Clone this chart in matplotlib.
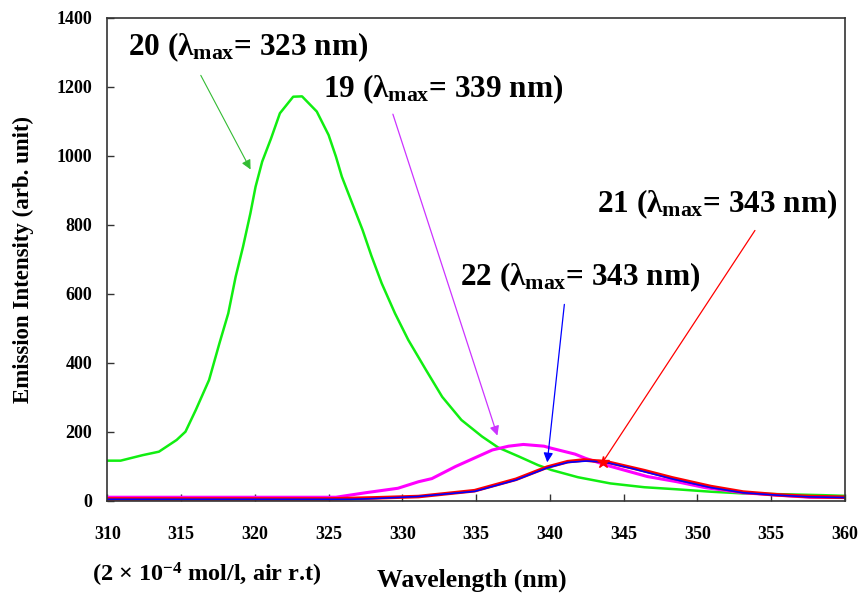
import matplotlib
matplotlib.use("Agg")
import matplotlib.pyplot as plt

plt.rcParams['font.family'] = ['Liberation Serif', 'DejaVu Serif']
plt.rcParams['font.weight'] = 'bold'
plt.rcParams['mathtext.fontset'] = 'custom'
plt.rcParams['mathtext.rm'] = 'Liberation Serif:bold'
plt.rcParams['mathtext.it'] = 'Liberation Serif:bold'
plt.rcParams['mathtext.bf'] = 'Liberation Serif:bold'

# compound 20 (green)
wl_20 = [310, 310.9, 312.4, 313.5, 314.7, 315.3, 316.0, 316.9, 317.6, 318.2, 318.7, 319.2,
         319.7, 320.05, 320.5, 321.1, 321.7, 322.6, 323.2, 324.2, 325.0, 325.5, 325.9, 326.6,
         327.3, 327.9, 328.6, 329.5, 330.4, 331.6, 332.7, 334.0, 335.4, 336.5, 337.9, 339.2,
         340.1, 341.9, 344.1, 346.4, 348.6, 350.9, 353.1, 355.4, 358.5, 360]
em_20 = [116, 116, 132, 142, 176, 200, 263, 350, 456, 543, 649, 736,
         833, 910, 983, 1050, 1123, 1171, 1172, 1128, 1060, 997, 939, 862,
         785, 710, 630, 543, 466, 379, 301, 234, 186, 154, 128, 103,
         89, 68, 50, 39, 33, 26, 21, 19, 16, 14]

# compound 19 (magenta)
wl_19 = [310, 320, 325.5, 327.5, 329.7, 331.1, 332.0, 333.6, 336.1, 337.2, 338.2, 339.6,
         340.1, 341.7, 342.4, 343.9, 346.6, 348.6, 350.5, 353.1, 355.4, 357.6, 360]
em_19 = [10, 10, 10, 23, 36, 55, 64, 99, 147, 158, 163, 158,
         152, 135, 123, 102, 70, 55, 38, 23, 16, 10, 9]

# compound 21 (red)
wl_21 = [310, 325, 326, 328, 331.1, 334.9, 337.7, 339.8, 341.2, 342.3, 343.7, 344.1,
         345.7, 346.4, 348.3, 350.9, 353.1, 355.4, 357.6, 360]
em_21 = [5, 5, 6, 8, 12, 29, 62, 97, 113, 118, 113, 110,
         94, 87, 66, 41, 25, 17, 12, 10]

# compound 22 (blue)
wl_22 = [310, 326.5, 328, 331, 334.9, 337.7, 339.8, 341.2, 342.5, 343.7, 345.7, 346.4,
         348.3, 350.9, 353.1, 355.4, 357.6, 360]
em_22 = [4, 4, 6, 12, 27, 60, 95, 111, 115, 112, 92, 84,
         63, 38, 23, 16, 11, 9]

fig = plt.figure(figsize=(8.61, 5.94), dpi=100)
ax = fig.add_axes([0.1246, 0.1571, 0.8568, 0.8131])

ax.plot(wl_20, em_20, color='#11ee11', linewidth=1.8)
ax.plot(wl_19, em_19, color='#ff00ff', linewidth=2.2)
ax.plot(wl_21, em_21, color='#ff0000', linewidth=2.6)
ax.plot(wl_22, em_22, color='#0000ff', linewidth=1.2)

ax.set_xlim(310, 360)
ax.set_ylim(0, 1400)
ax.set_xticks(range(310, 361, 5))
ax.set_yticks(range(0, 1401, 200))
ax.tick_params(direction='in', length=5, width=1, color='#333333', labelsize=13)
ax.tick_params(axis='x', pad=18)
ax.tick_params(axis='y', pad=11)
for lab in ax.get_xticklabels() + ax.get_yticklabels():
    lab.set_fontweight('bold')
for sp in ax.spines.values():
    sp.set_color('#333333')
    sp.set_linewidth(1.2)

ax.set_ylabel('Emission Intensity (arb. unit)', fontsize=16.5, fontweight='bold')
ax.yaxis.set_label_coords(-0.1, 0.5)
ax.set_xlabel('Wavelength (nm)', fontsize=18.5, fontweight='bold')
ax.xaxis.set_label_coords(0.494, -0.14)

fig.text(0.107, 0.021, r'(2 $\times$ 10$^{-4}$ mol/l, air r.t)', fontsize=17.5, fontweight='bold')

# labels with arrows
lab_kw = dict(fontsize=22.5, fontweight='bold', ha='left', va='baseline')
ax.text(311.4, 1292, r'20 ($\lambda_{\mathrm{max}}$= 323 nm)', **lab_kw)
ax.text(324.6, 1170, r'19 ($\lambda_{\mathrm{max}}$= 339 nm)', **lab_kw)
ax.text(343.2, 836, r'21 ($\lambda_{\mathrm{max}}$= 343 nm)', **lab_kw)
ax.text(333.9, 625, r'22 ($\lambda_{\mathrm{max}}$= 343 nm)', **lab_kw)

ax.annotate('', xy=(319.8, 953), xytext=(316.25, 1240),
            arrowprops=dict(arrowstyle='-|>', color='#33bb33', lw=0.8, mutation_scale=14))
ax.annotate('', xy=(336.5, 181), xytext=(329.3, 1128),
            arrowprops=dict(arrowstyle='-|>', color='#cc33ff', lw=0.9, mutation_scale=14))
ax.annotate('', xy=(339.8, 103), xytext=(341.0, 577),
            arrowprops=dict(arrowstyle='-|>', color='#0000ff', lw=0.9, mutation_scale=14))
ax.annotate('', xy=(343.6, 113), xytext=(354.0, 790),
            arrowprops=dict(arrowstyle='-', color='#ff0000', lw=0.9))
ax.plot([343.6], [113], marker='*', color='#ff0000', markersize=9)

fig.savefig('out.png', dpi=100)
